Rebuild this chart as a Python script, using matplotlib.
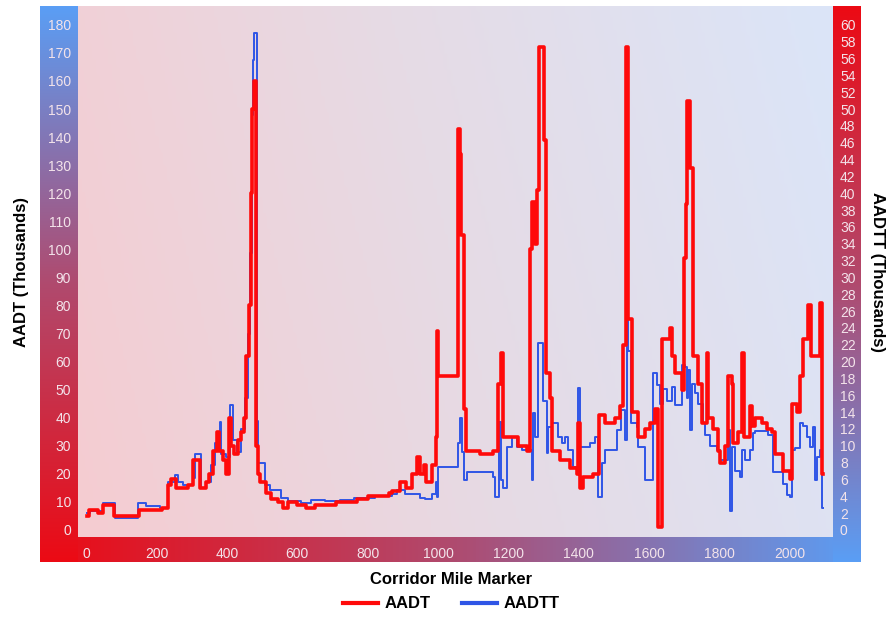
# AADT / AADTT along the corridor, stepped lines on two y axes

import numpy as np
import matplotlib.pyplot as plt
from matplotlib.colors import LinearSegmentedColormap
from matplotlib.lines import Line2D

plt.rcParams['font.family'] = ['Liberation Sans', 'DejaVu Sans']

# AADT (thousands), left axis
aadt_mile = [3, 8, 35, 48, 80, 150, 215, 232, 242, 255,
             290, 305, 325, 340, 350, 360, 372, 378, 390, 398,
             405, 412, 420, 432, 440, 450, 455, 462, 468, 472,
             476, 484, 488, 495, 510, 525, 545, 560, 575, 600,
             625, 650, 680, 710, 740, 770, 800, 830, 860, 869,
             892, 910, 925, 940, 950, 960, 965, 983, 994, 997,
             1000, 1057, 1062, 1065, 1073, 1080, 1120, 1157, 1170, 1178,
             1185, 1200, 1227, 1253, 1262, 1268, 1275, 1280, 1286, 1300,
             1306, 1318, 1324, 1347, 1375, 1395, 1398, 1403, 1412, 1440,
             1458, 1474, 1503, 1517, 1526, 1535, 1541, 1551, 1568, 1588,
             1602, 1616, 1625, 1636, 1659, 1665, 1673, 1693, 1700, 1704,
             1708, 1716, 1724, 1739, 1750, 1764, 1768, 1781, 1795, 1801,
             1815, 1824, 1834, 1838, 1853, 1864, 1870, 1886, 1892, 1901,
             1920, 1935, 1949, 1957, 1980, 2000, 2006, 2020, 2028, 2037,
             2051, 2059, 2085, 2091, 2094]
aadt = [5, 7, 6, 9, 5, 7, 8, 16, 18, 15,
        16, 25, 15, 17, 20, 28, 35, 28, 25, 20,
        40, 30, 27, 32, 35, 40, 62, 80, 120, 150,
        160, 30, 20, 17, 13, 11, 10, 8, 10, 9,
        8, 9, 9, 10, 10, 11, 12, 12, 13, 14,
        17, 15, 20, 26, 20, 23, 17, 23, 33, 71,
        55, 143, 134, 105, 43, 28, 27, 28, 52, 63,
        33, 33, 30, 28, 100, 117, 102, 121, 172, 139,
        56, 47, 28, 25, 22, 20, 38, 15, 19, 20,
        41, 38, 40, 44, 66, 172, 75, 42, 33, 36,
        38, 43, 1, 68, 72, 62, 56, 50, 97, 116,
        153, 129, 62, 52, 38, 63, 40, 36, 28, 24,
        30, 55, 52, 31, 35, 63, 33, 44, 37, 40,
        38, 36, 35, 27, 21, 18, 45, 42, 55, 68,
        80, 62, 81, 20, 20]

# AADTT (thousands), right axis
aadtt_mile = [3, 10, 48, 82, 148, 170, 210, 233, 253, 261,
              276, 304, 310, 327, 341, 355, 366, 380, 384, 398,
              409, 418, 429, 440, 452, 460, 465, 470, 474, 478,
              486, 489, 495, 508, 523, 554, 575, 610, 640, 680,
              720, 760, 800, 821, 869, 884, 906, 950, 963, 983,
              994, 997, 1000, 1057, 1062, 1068, 1075, 1082, 1157, 1162,
              1173, 1178, 1185, 1195, 1210, 1224, 1238, 1267, 1270, 1276,
              1284, 1298, 1310, 1313, 1324, 1341, 1352, 1361, 1370, 1384,
              1398, 1403, 1418, 1432, 1446, 1455, 1466, 1474, 1508, 1520,
              1531, 1537, 1540, 1548, 1565, 1568, 1588, 1611, 1622, 1631,
              1639, 1650, 1665, 1673, 1693, 1702, 1707, 1710, 1716, 1722,
              1730, 1739, 1753, 1758, 1773, 1793, 1801, 1824, 1828, 1830,
              1834, 1844, 1858, 1864, 1872, 1886, 1895, 1901, 1938, 1952,
              1980, 1991, 2000, 2006, 2014, 2028, 2037, 2048, 2057, 2065,
              2071, 2077, 2085, 2091, 2094]
aadtt = [2.0, 2.3, 3.2, 1.4, 3.2, 2.9, 2.6, 5.7, 6.5, 5.7,
         5.3, 6.2, 9.0, 5.0, 5.7, 7.7, 10.3, 12.8, 9.0, 8.7,
         14.8, 10.7, 9.3, 12.0, 15.7, 23.3, 32.9, 49.3, 55.8, 59.0,
         12.9, 8.0, 8.0, 5.3, 4.7, 3.8, 3.5, 3.2, 3.6, 3.4,
         3.6, 3.8, 3.8, 4.0, 4.3, 4.7, 4.3, 3.8, 3.7, 4.3,
         5.7, 3.9, 7.5, 10.3, 13.3, 9.3, 5.9, 6.9, 6.3, 3.9,
         12.8, 5.9, 5.0, 9.9, 11.0, 9.9, 9.5, 5.9, 13.9, 11.0,
         22.2, 15.3, 9.1, 12.2, 12.7, 11.0, 10.3, 11.0, 9.5, 7.5,
         16.9, 9.9, 9.9, 10.3, 11.0, 3.9, 8.0, 9.5, 11.9, 14.3,
         10.7, 25.5, 21.3, 12.7, 12.2, 9.9, 5.9, 18.7, 17.2, 15.0,
         16.7, 15.3, 17.0, 14.8, 19.6, 19.3, 15.7, 19.0, 11.9, 17.3,
         16.3, 15.0, 12.7, 11.3, 10.0, 9.5, 8.3, 11.9, 10.3, 2.3,
         9.9, 7.0, 6.3, 9.5, 8.3, 9.5, 11.5, 11.7, 11.3, 6.9,
         5.5, 4.2, 3.9, 9.5, 9.7, 12.7, 12.3, 11.0, 9.9, 12.2,
         5.9, 8.7, 9.5, 2.6, 2.6]

RED = '#ff0a0a'
BLUE = '#2f55e6'
TICKC = '#f3e3ea'

W, H = 886, 617
fig = plt.figure(figsize=(W / 100, H / 100), dpi=100)


def rect(x0, y0, x1, y1):
    return [x0 / W, 1 - y1 / H, (x1 - x0) / W, (y1 - y0) / H]


band = LinearSegmentedColormap.from_list('band', ['#ec0a14', '#b04a6e', '#5a9ef5'])
g = np.linspace(0, 1, 256)

# coloured bands around the plot (tick label strips)
b = fig.add_axes(rect(40, 537, 861, 562))
b.imshow(g.reshape(1, -1), cmap=band, aspect='auto')
b.axis('off')
l = fig.add_axes(rect(40, 6, 78, 562))
l.imshow(g.reshape(-1, 1), cmap=band, aspect='auto', origin='lower')
l.axis('off')
r = fig.add_axes(rect(833, 6, 861, 562))
r.imshow(g[::-1].reshape(-1, 1), cmap=band, aspect='auto', origin='lower')
r.axis('off')

# plot area background
bg = fig.add_axes(rect(78, 6, 833, 537))
soft = LinearSegmentedColormap.from_list('soft', ['#f5ccd1', '#e6dbe5', '#dbe5f8'])
xx, yy = np.meshgrid(np.linspace(0, 1, 200), np.linspace(0, 1, 200))
bg.imshow(0.85 * xx + 0.15 * yy, cmap=soft, aspect='auto', origin='lower')
bg.axis('off')

ax2 = fig.add_axes(rect(78, 6, 833, 537))
ax2.patch.set_visible(False)
ax = ax2.twinx()
ax.yaxis.tick_left()
ax.yaxis.set_label_position('left')
ax2.yaxis.tick_right()
ax2.yaxis.set_label_position('right')
ax.patch.set_visible(False)

ax2.step(aadtt_mile, aadtt, where='post', color=BLUE, lw=1.4)
ax.step(aadt_mile, aadt, where='post', color=RED, lw=2.6)

ax.set_xlim(-23, 2122)
ax.set_ylim(-2.5, 186.7)
ax2.set_ylim(-2.5 / 3, 186.7 / 3)
ax.set_xticks(range(0, 2001, 200))
ax.set_yticks(range(0, 181, 10))
ax2.set_yticks(range(0, 61, 2))

for a in (ax, ax2):
    for s in a.spines.values():
        s.set_visible(False)
    a.tick_params(length=0, labelsize=10, labelcolor=TICKC)
ax.tick_params(axis='y', pad=5)
ax2.tick_params(axis='y', pad=5)
ax2.tick_params(axis='x', pad=7)

fig.text(22 / W, 1 - 272 / H, 'AADT (Thousands)', rotation=90, ha='center', va='center',
         fontsize=12, fontweight='bold')
fig.text(878 / W, 1 - 272 / H, 'AADTT (Thousands)', rotation=-90, ha='center', va='center',
         fontsize=12, fontweight='bold')
fig.text(451 / W, 1 - 580 / H, 'Corridor Mile Marker', ha='center', va='center',
         fontsize=12, fontweight='bold')

handles = [Line2D([], [], color=RED, lw=3), Line2D([], [], color=BLUE, lw=3)]
fig.legend(handles, ['AADT', 'AADTT'], loc='center', bbox_to_anchor=(451 / W, 1 - 604 / H),
           ncol=2, frameon=False, prop={'weight': 'bold', 'size': 12},
           handlelength=2.1, handletextpad=0.4, columnspacing=1.9)

fig.savefig('out.png', dpi=100)
